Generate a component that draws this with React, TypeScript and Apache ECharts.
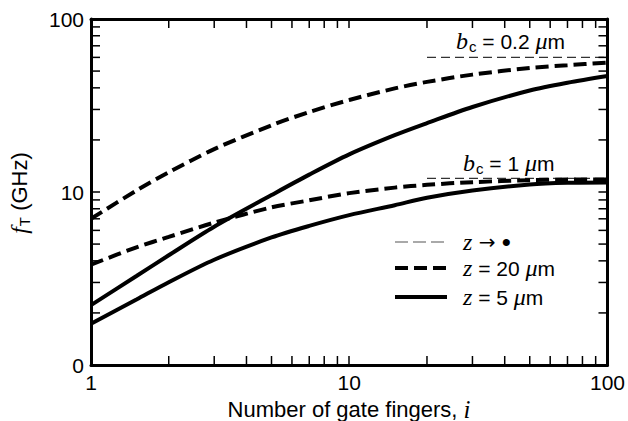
import React, { useEffect, useRef } from "react";
import * as echarts from "echarts";

const xValues = [1, 1.5, 2, 3, 5, 7, 10, 15, 20, 30, 50, 70, 100];
const z20bc02 = [7.0, 10.2, 13.0, 17.7, 24.3, 29.0, 34.0, 39.7, 43.3, 47.7, 52.1, 54.1, 56.0];
const z5bc02 = [2.22, 3.27, 4.31, 6.3, 9.6, 12.6, 16.5, 21.3, 25.0, 31.0, 38.6, 42.8, 46.8];
const z20bc1 = [3.8, 4.79, 5.5, 6.65, 8.15, 8.95, 9.85, 10.6, 11.0, 11.4, 11.7, 11.8, 11.8];
const z5bc1 = [1.73, 2.39, 3.01, 4.06, 5.46, 6.37, 7.35, 8.39, 9.26, 10.2, 11.05, 11.3, 11.35];
const refX = [20, 100];
const refBc02 = 60;
const refBc1 = 12;
const minorTicks = [2, 3, 4, 5, 6, 7, 8, 9, 20, 30, 40, 50, 60, 70, 80, 90];

const SANS = "Liberation Sans";
const SERIF = "Liberation Serif";

const pairs = (ys: number[]) => xValues.map((x, i) => [x, ys[i]]);

export default function App() {
  const ref = useRef<HTMLDivElement>(null);
  useEffect(() => {
    if (!ref.current) return;
    const chart = echarts.init(ref.current, null, { renderer: "svg" });
    const axisCommon = {
      type: "log" as const,
      logBase: 10,
      min: 1,
      max: 100,
      axisLine: { show: true, lineStyle: { color: "#000", width: 3 } },
      axisTick: { show: true, inside: true, length: 9, lineStyle: { color: "#000", width: 1.5 } },
      splitLine: { show: false },
      minorTick: { show: false },
    };
    const thick = (name: string, data: number[], dashed: boolean) => ({
      type: "line",
      name,
      data: pairs(data),
      smooth: 0.3,
      showSymbol: false,
      symbol: "none",
      lineStyle: { color: "#000", width: 4, type: dashed ? [13, 6] : "solid", cap: "butt" },
      z: 3,
    });
    const refLine = (val: number) => ({
      type: "line",
      name: "z-inf",
      data: refX.map((x) => [x, val]),
      symbol: "none",
      lineStyle: { color: "#333", width: 1.2, type: [9, 5] },
      z: 2,
    });
    const richStyles: any = {
      it: { fontFamily: SERIF, fontStyle: "italic", fontSize: 24, fill: "#000", color: "#000" },
      n: { fontFamily: SANS, fontSize: 21, fill: "#000", color: "#000" },
      ar: { fontFamily: "DejaVu Sans", fontSize: 20, fill: "#000", color: "#000" },
      dot: { fontFamily: SANS, fontSize: 26, fill: "#000", color: "#000" },
      sub: { fontFamily: SANS, fontSize: 15, fill: "#000", color: "#000", padding: [11, 0, 0, 1] },
    };
    const legendRow = (y: number, dash: any, width: number, color: string, rich: string) => [
      {
        type: "line",
        shape: { x1: 395, y1: y, x2: 447, y2: y },
        style: { stroke: color, lineWidth: width, lineDash: dash },
      },
      {
        type: "text",
        x: 463,
        y,
        style: {
          text: rich,
          verticalAlign: "middle",
          align: "left",
          rich: richStyles,
        },
      },
    ];
    chart.setOption({
      animation: false,
      grid: { left: 91, top: 19, width: 517, height: 346 },
      xAxis: [
        {
          ...axisCommon,
          position: "bottom",
          axisLabel: { fontFamily: SANS, fontSize: 21, color: "#000", margin: 7 },
        },
        {
          ...axisCommon,
          position: "top",
          axisLabel: { show: false },
        },
      ],
      yAxis: [
        {
          ...axisCommon,
          position: "left",
          axisLabel: {
            fontFamily: SANS,
            fontSize: 21,
            color: "#000",
            margin: 7,
            formatter: (v: number) => (v === 1 ? "0" : String(v)),
          },
        },
        {
          ...axisCommon,
          position: "right",
          axisLabel: { show: false },
        },
      ],
      series: [
        refLine(refBc02),
        refLine(refBc1),
        thick("z=20", z20bc02, true),
        thick("z=5", z5bc02, false),
        thick("z=20", z20bc1, true),
        thick("z=5", z5bc1, false),
        {
          type: "custom",
          clip: false,
          data: minorTicks.map((v) => [v, 1]),
          renderItem: (params: any, api: any) => {
            const v = api.value(0);
            const b = api.coord([v, 1]);
            const t = api.coord([v, 100]);
            return {
              type: "group",
              children: [
                { type: "line", shape: { x1: b[0], y1: b[1], x2: b[0], y2: b[1] - 9 }, style: { stroke: "#000", lineWidth: 1.5 } },
                { type: "line", shape: { x1: t[0], y1: t[1], x2: t[0], y2: t[1] + 9 }, style: { stroke: "#000", lineWidth: 1.5 } },
              ],
            };
          },
          z: 4,
        },
        {
          type: "custom",
          clip: false,
          data: minorTicks.map((v) => [1, v]),
          renderItem: (params: any, api: any) => {
            const v = api.value(1);
            const l = api.coord([1, v]);
            const r = api.coord([100, v]);
            return {
              type: "group",
              children: [
                { type: "line", shape: { x1: l[0], y1: l[1], x2: l[0] + 9, y2: l[1] }, style: { stroke: "#000", lineWidth: 1.5 } },
                { type: "line", shape: { x1: r[0], y1: r[1], x2: r[0] - 9, y2: r[1] }, style: { stroke: "#000", lineWidth: 1.5 } },
              ],
            };
          },
          z: 4,
        },
      ],
      graphic: [
        {
          type: "text",
          x: 456,
          y: 41,
          style: {
            text: "{it|b}{sub|c}{n| = 0.2 }{it|μ}{n|m}",
            verticalAlign: "middle",
            rich: richStyles,
          },
        },
        {
          type: "text",
          x: 463,
          y: 163,
          style: {
            text: "{it|b}{sub|c}{n| = 1 }{it|μ}{n|m}",
            verticalAlign: "middle",
            rich: richStyles,
          },
        },
        ...legendRow(242, [13, 5], 1.2, "#555", "{it|z}{ar| → }{dot|•}"),
        ...legendRow(268, [13, 6], 4, "#000", "{it|z}{n| = 20 }{it|μ}{n|m}"),
        ...legendRow(297, null, 4, "#000", "{it|z}{n| = 5 }{it|μ}{n|m}"),
        {
          type: "text",
          x: 349,
          y: 409,
          style: {
            text: "{t|Number of gate fingers, }{ti|i}",
            align: "center",
            verticalAlign: "middle",
            rich: {
              t: { fontFamily: SANS, fontSize: 22, fill: "#000" },
              ti: { fontFamily: SERIF, fontStyle: "italic", fontSize: 25, fill: "#000" },
            },
          },
        },
        {
          type: "text",
          x: 19,
          y: 193,
          rotation: Math.PI / 2,
          style: {
            text: "{it|f}{sub|T}{t| (GHz)}",
            align: "center",
            verticalAlign: "middle",
            rich: {
              ...richStyles,
              t: { fontFamily: SANS, fontSize: 22, fill: "#000" },
            },
          },
        },
      ],
    });
    return () => chart.dispose();
  }, []);
  return (
    <div
      ref={ref}
      style={{ position: "absolute", left: 0, top: 0, width: 628, height: 421, background: "#fff" }}
    />
  );
}
